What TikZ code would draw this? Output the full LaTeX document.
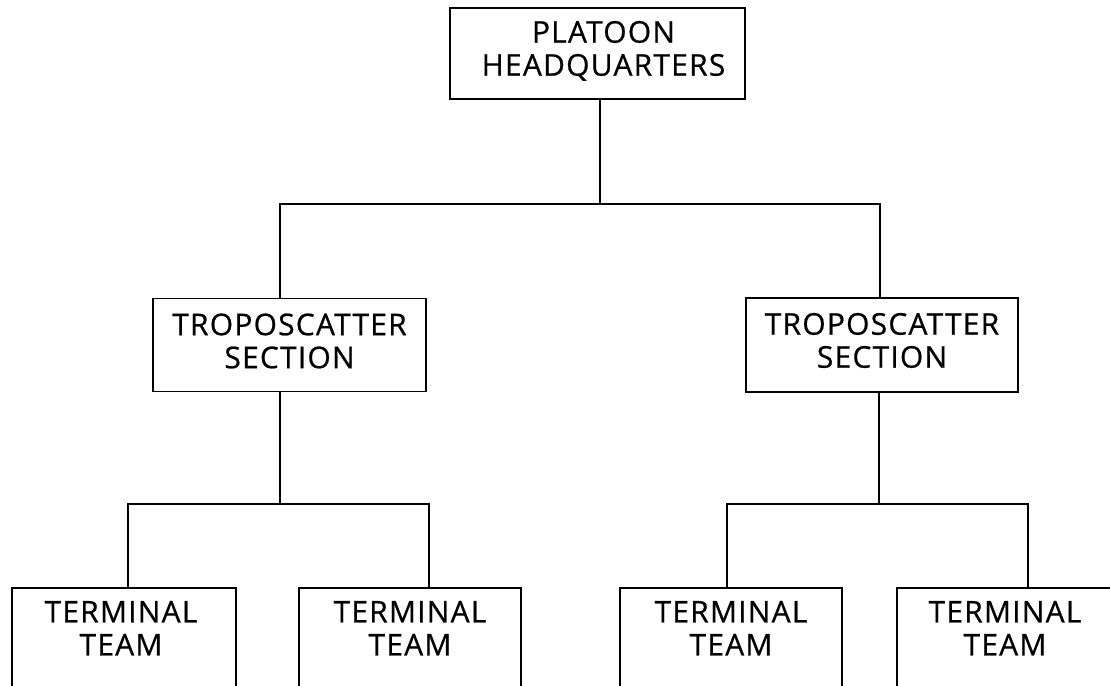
\documentclass[tikz,border=0pt]{standalone}
\usepackage{fontspec}
\newfontfamily\lblfont[LetterSpace=4,FakeBold=0.6]{Open Sans}
\begin{document}
\begin{tikzpicture}[x=1pt,y=-1pt,
  box/.style={draw=black,line width=1.5pt,inner sep=0pt,rectangle},
  lbl/.style={inner sep=0pt,align=center,anchor=north,font=\lblfont\fontsize{30}{33}\selectfont},
  conn/.style={draw=black,line width=1.5pt}]
\useasboundingbox (0,0) rectangle (1110,685);
\clip (0,0) rectangle (1110,685);
\fill[white] (0,0) rectangle (1110,685);
% boxes
\node[box,minimum width=295pt,minimum height=91pt] (hq) at (597.5,53.5) {};
\node[box,minimum width=273pt,minimum height=93pt] (tl) at (289.5,345) {};
\node[box,minimum width=272pt,minimum height=94pt] (tr) at (882,345) {};
\node[box,minimum width=224pt,minimum height=140pt] (b1) at (124,658) {};
\node[box,minimum width=222pt,minimum height=140pt] (b2) at (410,658) {};
\node[box,minimum width=222pt,minimum height=140pt] (b3) at (731,658) {};
\node[box,minimum width=222pt,minimum height=140pt] (b4) at (1008,658) {};
% labels
\node[lbl] (hqt) at ([yshift=-13.5pt,xshift=6pt]hq.north) {PLATOON\\HEADQUARTERS};
\node[lbl] (tlt) at ([yshift=-15.5pt]tl.north) {TROPOSCATTER\\SECTION};
\node[lbl] (trt) at ([yshift=-15.5pt]tr.north) {TROPOSCATTER\\SECTION};
\node[lbl] (b1t) at ([yshift=-13.5pt,xshift=-3pt]b1.north) {TERMINAL\\TEAM};
\node[lbl] (b2t) at ([yshift=-13.5pt]b2.north) {TERMINAL\\TEAM};
\node[lbl] (b3t) at ([yshift=-13.5pt]b3.north) {TERMINAL\\TEAM};
\node[lbl] (b4t) at ([yshift=-13.5pt,xshift=-3pt]b4.north) {TERMINAL\\TEAM};
% junction coordinates
\coordinate (j0) at (600,204);
\coordinate (a1) at (280,204);
\coordinate (a2) at (880,204);
\coordinate (jl) at (280,504);
\coordinate (l1) at (128,504);
\coordinate (l2) at (429,504);
\coordinate (jr) at (879,504);
\coordinate (r1) at (727,504);
\coordinate (r2) at (1028,504);
% connectors
\draw[conn] (hq.south -| j0) -- (j0);
\draw[conn] (tl.north -| a1) -- (a1) -- (a2) -- (tr.north -| a2);
\draw[conn] (tl.south -| jl) -- (jl);
\draw[conn] (b1.north -| l1) -- (l1) -- (l2) -- (b2.north -| l2);
\draw[conn] (tr.south -| jr) -- (jr);
\draw[conn] (b3.north -| r1) -- (r1) -- (r2) -- (b4.north -| r2);
\end{tikzpicture}
\end{document}
